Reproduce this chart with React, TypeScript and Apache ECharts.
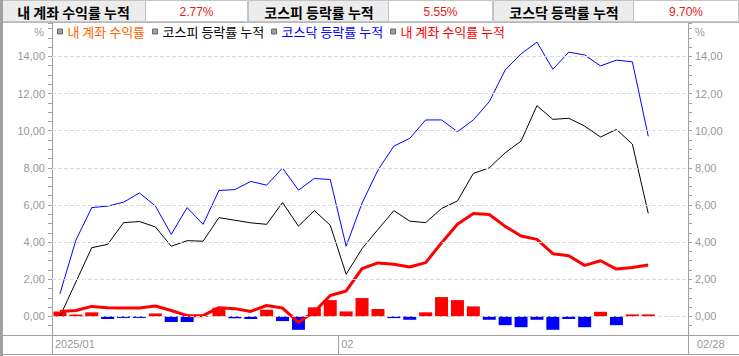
import React, { useEffect, useRef } from "react";
import * as echarts from "echarts";

// ---- data ----
const dates = [
  "01/02", "01/03", "01/06", "01/07", "01/08", "01/09", "01/10", "01/13", "01/14", "01/15",
  "01/16", "01/17", "01/20", "01/21", "01/22", "01/23", "01/24", "01/31",
  "02/03", "02/04", "02/05", "02/06", "02/07", "02/10", "02/11", "02/12", "02/13", "02/14",
  "02/17", "02/18", "02/19", "02/20", "02/21", "02/24", "02/25", "02/26", "02/27", "02/28",
];
const emptySlots = ["", ""];

const dailyReturn = [
  0.27, 0.10, 0.22, -0.14, -0.08, -0.08, 0.16, -0.30, -0.30, -0.03,
  0.47, -0.10, -0.14, 0.36, -0.25, -0.72, 0.49, 0.88, 0.27, 0.99,
  0.40, -0.09, -0.18, 0.22, 1.04, 0.88, 0.54, -0.18, -0.47, -0.58,
  -0.18, -0.72, -0.14, -0.58, 0.25, -0.47, 0.11, 0.11,
];
const kospiCum = [
  0.00, 1.85, 3.70, 3.88, 5.05, 5.11, 4.82, 3.78, 4.08, 4.05,
  5.32, 5.18, 5.04, 4.96, 6.13, 4.86, 5.70, 4.91, 2.27, 3.65,
  4.68, 5.70, 5.13, 5.05, 5.81, 6.22, 7.70, 8.00, 8.81, 9.44,
  11.35, 10.61, 10.67, 10.25, 9.66, 10.07, 9.28, 5.55,
];
const kosdaqCum = [
  1.22, 4.10, 5.86, 5.94, 6.15, 6.65, 5.95, 4.42, 5.86, 4.96,
  6.78, 6.83, 7.27, 7.07, 7.99, 6.80, 7.43, 7.37, 3.78, 6.10,
  7.88, 9.17, 9.59, 10.58, 10.58, 9.95, 10.58, 11.56, 13.27, 14.14,
  14.77, 13.31, 14.23, 14.08, 13.49, 13.80, 13.71, 9.70,
];
const accountCum = [
  0.27, 0.32, 0.54, 0.47, 0.45, 0.45, 0.56, 0.32, 0.04, 0.04,
  0.47, 0.42, 0.27, 0.59, 0.45, -0.32, 0.25, 1.13, 1.37, 2.57,
  2.88, 2.81, 2.66, 2.90, 3.96, 4.96, 5.54, 5.49, 4.85, 4.33,
  4.15, 3.38, 3.27, 2.75, 3.00, 2.55, 2.64, 2.77,
];
const yGridValues = [0, 2, 4, 6, 8, 10, 12, 14];
const xTickLabels = ["2025/01", "02", "02/28"];

const seriesNames = ["내 계좌 수익률", "코스피 등락률 누적", "코스닥 등락률 누적", "내 계좌 수익률 누적"];
const headerLabels = ["내 계좌 수익률 누적", "코스피 등락률 누적", "코스닥 등락률 누적"];

export default function App() {
  const ref = useRef<HTMLDivElement>(null);
  useEffect(() => {
    if (!ref.current) return;
    const chart = echarts.init(ref.current, null, { renderer: "svg" });
    const categories = [...dates, ...emptySlots];
    const febIndex = dates.findIndex((d) => d.startsWith("02/"));
    const xTickPos = [0, febIndex, categories.length];
    const grey = "#a0a0a0";
    const labelColor = "#999999";
    const numFont = "Liberation Sans";
    const krFont = "Noto Sans CJK KR";

    const fmtY = (v: number) =>
      Math.abs(v % 2) < 1e-9 && v >= 0 && v <= 14 ? v.toFixed(2).replace(".", ",") : "";

    const yBase = (pos: "left" | "right") => ({
      type: "value",
      position: pos,
      min: -1,
      max: 15.8,
      interval: 0.5,
      axisLine: { show: true, onZero: false, lineStyle: { color: grey } },
      axisTick: { show: true, length: 4, lineStyle: { color: grey } },
      splitLine: { show: false },
      axisLabel: { formatter: fmtY, color: labelColor, fontSize: 11, fontFamily: numFont, margin: 7 },
    });

    const lastVals = [accountCum[accountCum.length - 1], kospiCum[kospiCum.length - 1], kosdaqCum[kosdaqCum.length - 1]];
    const labelCells = [[0, 145], [248, 388], [493, 633]];
    const valueCells = [[145, 248], [388, 493], [633, 739]];
    const headerGraphics: any[] = [];
    for (let k = 0; k < 3; k++) {
      const [lx0, lx1] = labelCells[k];
      const [vx0, vx1] = valueCells[k];
      headerGraphics.push({
        type: "rect",
        shape: { x: lx0 + 0.5, y: 0.5, width: lx1 - lx0, height: 21 },
        style: { fill: "#ececec", stroke: "#c4c4c4", lineWidth: 1 },
      });
      headerGraphics.push({
        type: "rect",
        shape: { x: vx0 + 0.5, y: 0.5, width: vx1 - vx0 - 1, height: 21 },
        style: { fill: "#ffffff", stroke: "#c4c4c4", lineWidth: 1 },
      });
      headerGraphics.push({
        type: "text",
        x: (lx0 + lx1) / 2 + 1,
        y: 12,
        style: {
          text: headerLabels[k],
          fill: "#000",
          font: `bold 14px "${krFont}"`,
          align: "center",
          verticalAlign: "middle",
        },
      });
      headerGraphics.push({
        type: "text",
        x: (vx0 + vx1) / 2,
        y: 12,
        style: {
          text: `${lastVals[k].toFixed(2)}%`,
          fill: "#e02020",
          font: `12px "${numFont}"`,
          align: "center",
          verticalAlign: "middle",
        },
      });
    }

    const frameGraphics: any[] = [
      { type: "rect", shape: { x: 0, y: 0, width: 3, height: 356 }, style: { fill: grey } },
      { type: "line", shape: { x1: 3, y1: 22.5, x2: 739, y2: 22.5 }, style: { stroke: "#b8b8b8", lineWidth: 1 } },
      { type: "line", shape: { x1: 3, y1: 335.5, x2: 739, y2: 335.5 }, style: { stroke: grey, lineWidth: 1 } },
      { type: "line", shape: { x1: 3, y1: 354.5, x2: 739, y2: 354.5 }, style: { stroke: grey, lineWidth: 1 } },
      {
        type: "text", x: 44, y: 32,
        style: { text: "%", fill: labelColor, font: `11px "${numFont}"`, align: "right", verticalAlign: "middle" },
      },
      {
        type: "text", x: 695, y: 32,
        style: { text: "%", fill: labelColor, font: `11px "${numFont}"`, align: "left", verticalAlign: "middle" },
      },
    ];

    const legendColors = ["#ff6600", "#000000", "#0000ff", "#ff0000"];

    chart.setOption({
      animation: false,
      backgroundColor: "#ffffff",
      grid: { left: 52, right: 51, top: 23, bottom: 21, containLabel: false, outerBoundsMode: "none" },
      legend: {
        left: 57,
        top: 25,
        padding: 0,
        icon: "rect",
        itemWidth: 5,
        itemHeight: 5,
        itemGap: 7,
        selectedMode: false,
        itemStyle: { color: grey, borderColor: "#666666", borderWidth: 1 },
        textStyle: { fontSize: 13, fontFamily: krFont },
        data: seriesNames.map((n, i) => ({ name: n, textStyle: { color: legendColors[i] } })),
      },
      xAxis: [
        {
          type: "category",
          data: categories,
          position: "top",
          boundaryGap: true,
          axisLine: { show: false, onZero: false },
          axisTick: { show: false },
          axisLabel: { show: false },
          splitLine: {
            show: true,
            interval: (idx: number) => idx === febIndex,
            lineStyle: { color: "#dddddd", type: "dashed", width: 1 },
          },
        },
        {
          type: "value",
          position: "bottom",
          min: 0,
          max: categories.length,
          axisLine: { show: true, onZero: false, lineStyle: { color: grey } },
          axisTick: { show: true, customValues: xTickPos, length: 19, lineStyle: { color: grey } },
          splitLine: { show: false },
          axisLabel: {
            customValues: xTickPos,
            showMinLabel: true,
            showMaxLabel: true,
            align: "left",
            margin: 3,
            formatter: (v: number) => {
              const i = xTickPos.indexOf(v);
              if (i < 0) return "";
              return `{${i === 2 ? "b" : "a"}|${xTickLabels[i]}}`;
            },
            rich: {
              a: { color: labelColor, fontSize: 11, fontFamily: numFont, padding: [0, 0, 0, 3] },
              b: { color: labelColor, fontSize: 11, fontFamily: numFont, padding: [0, 0, 0, 9] },
            },
          },
        },
      ],
      yAxis: [yBase("left"), yBase("right")],
      series: [
        {
          name: seriesNames[0],
          type: "bar",
          xAxisIndex: 0,
          yAxisIndex: 0,
          data: dailyReturn,
          barWidth: 13,
          itemStyle: { color: (p: any) => (p.value >= 0 ? "#ff0000" : "#0000ff") },
          markLine: {
            silent: true,
            symbol: "none",
            label: { show: false },
            lineStyle: { color: "#dddddd", type: "dashed", width: 1 },
            data: yGridValues.map((v) => ({ yAxis: v })),
          },
        },
        {
          name: seriesNames[1],
          type: "line",
          xAxisIndex: 0,
          yAxisIndex: 0,
          data: kospiCum,
          symbol: "none",
          itemStyle: { color: "#000000" },
          lineStyle: { color: "#000000", width: 1 },
        },
        {
          name: seriesNames[2],
          type: "line",
          xAxisIndex: 0,
          yAxisIndex: 0,
          data: kosdaqCum,
          symbol: "none",
          itemStyle: { color: "#0000ff" },
          lineStyle: { color: "#0000ff", width: 1 },
        },
        {
          name: seriesNames[3],
          type: "line",
          xAxisIndex: 0,
          yAxisIndex: 0,
          data: accountCum,
          symbol: "none",
          itemStyle: { color: "#ff0000" },
          lineStyle: { color: "#ff0000", width: 3 },
        },
      ],
      graphic: [...headerGraphics, ...frameGraphics],
    });
    return () => chart.dispose();
  }, []);
  return (
    <div
      ref={ref}
      style={{ position: "absolute", left: 0, top: 0, width: 739, height: 356, background: "#fff" }}
    />
  );
}
